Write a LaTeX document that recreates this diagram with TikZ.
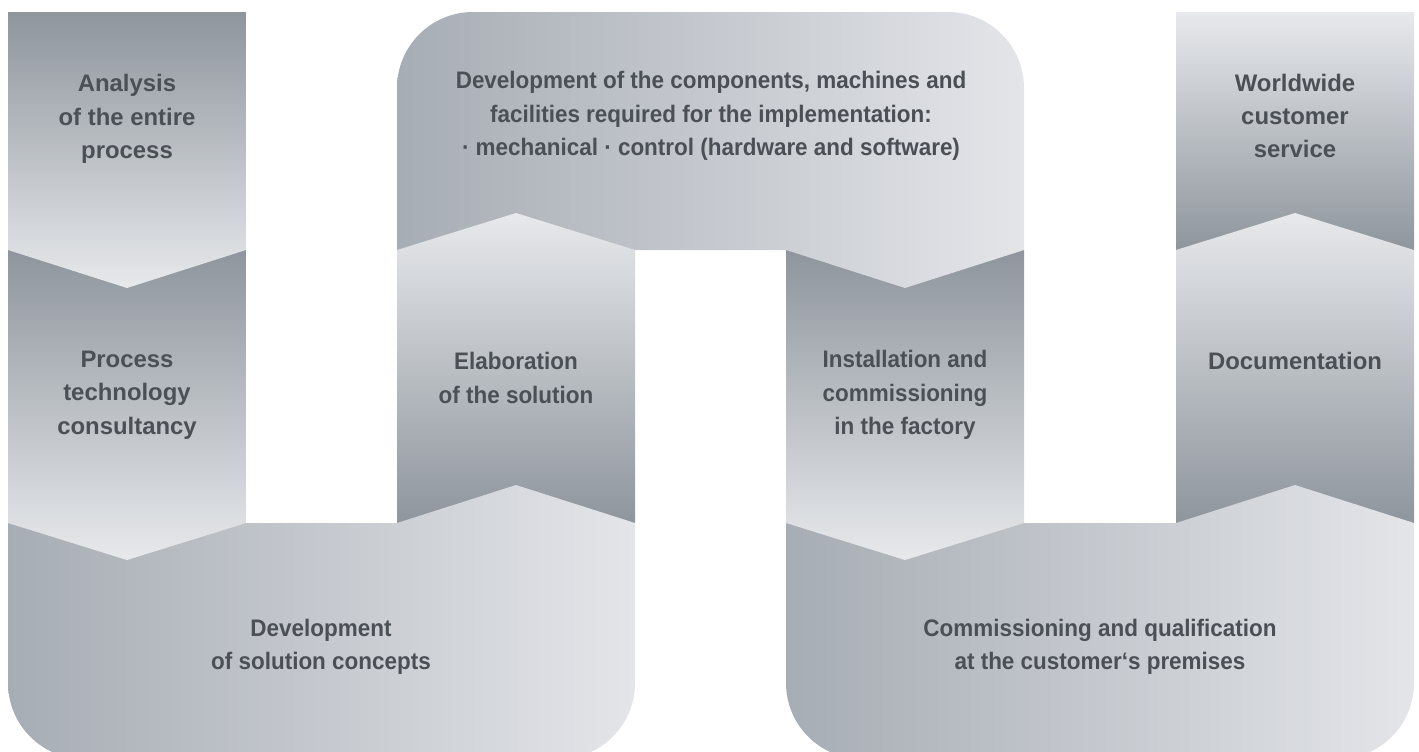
\documentclass[tikz,border=0pt]{standalone}
\usepackage{fontspec}
\setmainfont{Liberation Sans}
\newfontfamily\condfont[FakeStretch=0.94]{Liberation Sans}

\definecolor{oscuro}{HTML}{8E959C}
\definecolor{claro}{HTML}{E7E9EC}
\definecolor{medio}{HTML}{A7ADB4}
\definecolor{claroh}{HTML}{E3E5E9}
\definecolor{letra}{HTML}{4B5056}

\begin{document}
\begin{tikzpicture}[x=0.02cm,y=-0.02cm,
    texto/.style={text=letra,align=center,font=\bfseries\fontsize{13.6}{19}\selectfont},
    textoc/.style={text=letra,align=center,font=\condfont\bfseries\fontsize{13.6}{19}\selectfont}]

      \useasboundingbox (0,0) rectangle (1419,751);

      % Parámetros
      \def\rad{76} % Radio de las esquinas redondeadas
      \def\yfin{759} % Borde inferior (fuera del dibujo)

      % Servicio mundial (arriba a la derecha)
      \shade[top color=claro,bottom color=oscuro] (1176,12) rectangle (1414,250);

      % Documentación, punta hacia arriba
      \shade[top color=claro,bottom color=oscuro]
        (1176,523) -- (1176,250) -- (1295,213) -- (1414,250) -- (1414,523) -- cycle;

      % U de la derecha, punta hacia arriba
      \shade[left color=medio,right color=claroh]
        (786,523) -- (1176,523) -- (1295,485) -- (1414,523) -- (1414,{\yfin-\rad})
        arc[start angle=0,end angle=90,radius=\rad] -- ({786+\rad},\yfin)
        arc[start angle=90,end angle=180,radius=\rad] -- cycle;

      % Instalación, punta hacia abajo
      \shade[top color=oscuro,bottom color=claro]
        (786,250) -- (1024,250) -- (1024,523) -- (905,560) -- (786,523) -- cycle;

      % Arco de arriba, punta hacia abajo
      \shade[left color=medio,right color=claroh]
        (397,250) -- (786,250) -- (905,288) -- (1024,250) -- (1024,{12+\rad})
        arc[start angle=0,end angle=-90,radius=\rad] -- ({397+\rad},12)
        arc[start angle=-90,end angle=-180,radius=\rad] -- cycle;

      % Elaboración, punta hacia arriba
      \shade[top color=claro,bottom color=oscuro]
        (397,523) -- (397,250) -- (516,213) -- (635,250) -- (635,523) -- cycle;

      % U de la izquierda, punta hacia arriba
      \shade[left color=medio,right color=claroh]
        (8,523) -- (397,523) -- (516,485) -- (635,523) -- (635,{\yfin-\rad})
        arc[start angle=0,end angle=90,radius=\rad] -- ({8+\rad},\yfin)
        arc[start angle=90,end angle=180,radius=\rad] -- cycle;

      % Consultoría, punta hacia abajo
      \shade[top color=oscuro,bottom color=claro]
        (8,250) -- (246,250) -- (246,523) -- (127,560) -- (8,523) -- cycle;

      % Análisis, punta hacia abajo
      \shade[top color=oscuro,bottom color=claro]
        (8,12) -- (246,12) -- (246,250) -- (127,288) -- (8,250) -- cycle;

      % Textos
      \node[texto] (analisis) at (127,119) {Analysis\\of the entire\\process};
      \node[texto] (consultoria) at (127,395) {Process\\technology\\consultancy};
      \node[textoc] (conceptos) at (321,647) {Development\\of solution concepts};
      \node[textoc] (elaboracion) at (516,378) {Elaboration\\of the solution};
      \node[textoc] (desarrollo) at (711,116)
        {Development of the components, machines and\\facilities required for the implementation:\\· mechanical · control (hardware and software)};
      \node[textoc] (instalacion) at (905,395) {Installation and\\commissioning\\in the factory};
      \node[textoc] (cliente) at (1100,647) {Commissioning and qualification\\at the customer‘s premises};
      \node[texto] (documentacion) at (1295,361) {Documentation};
      \node[texto] (servicio) at (1295,116) {Worldwide\\customer\\service};

    \end{tikzpicture}
\end{document}
